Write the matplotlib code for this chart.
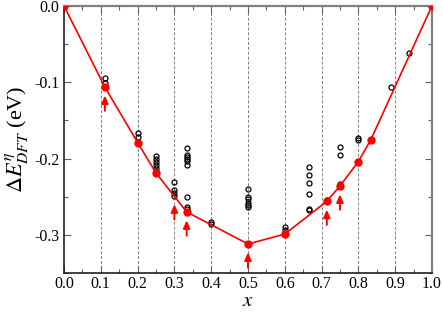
import matplotlib
matplotlib.use('Agg')
from matplotlib import pyplot as plt
from matplotlib.ticker import MultipleLocator

plt.rcParams['font.family'] = ['Liberation Serif', 'DejaVu Serif']
plt.rcParams['mathtext.fontset'] = 'stix'
plt.rcParams['axes.unicode_minus'] = False

# convex hull (red)
hull_x = [0.0, 1/9, 0.2, 0.25, 1/3, 0.5, 0.6, 5/7, 0.75, 0.8, 5/6, 1.0]
hull_y = [0.0, -0.1065, -0.179, -0.219, -0.270, -0.312, -0.299, -0.256, -0.236, -0.204, -0.176, 0.0]

# all DFT structures (open circles)
struct_x = [1/9, 1/9,
            0.2, 0.2,
            0.25, 0.25, 0.25, 0.25, 0.25, 0.25,
            0.3, 0.3, 0.3, 0.3,
            1/3, 1/3, 1/3, 1/3, 1/3, 1/3, 1/3, 1/3, 1/3,
            0.4, 0.4,
            0.5, 0.5, 0.5, 0.5, 0.5, 0.5,
            0.6, 0.6,
            2/3, 2/3, 2/3, 2/3, 2/3, 2/3,
            5/7,
            0.75, 0.75, 0.75,
            0.8, 0.8,
            8/9, 15/16]
struct_y = [-0.095, -0.101,
            -0.167, -0.172,
            -0.197, -0.201, -0.204, -0.208, -0.212, -0.216,
            -0.231, -0.241, -0.245, -0.249,
            -0.186, -0.195, -0.198, -0.201, -0.203, -0.209, -0.251, -0.264, -0.266,
            -0.283, -0.286,
            -0.240, -0.250, -0.253, -0.258, -0.261, -0.263,
            -0.290, -0.293,
            -0.211, -0.221, -0.232, -0.246, -0.266, -0.268,
            -0.254,
            -0.185, -0.195, -0.234,
            -0.173, -0.176,
            -0.106, -0.062]

# arrows marking selected structures
arrow_x = [1/9, 0.3, 1/3, 0.5, 5/7, 0.75]
arrow_y = [-0.1065, -0.249, -0.270, -0.312, -0.256, -0.236]

fig = plt.figure(figsize=(4.43, 3.12), dpi=100)
ax = fig.add_axes([0.1445, 0.125, 0.8305, 0.856])

for gx in [0.1 * i for i in range(1, 10)]:
    ax.axvline(gx, color='#808080', lw=0.7, ls=(0, (3, 2)), zorder=0)

ax.plot(struct_x, struct_y, 'o', mfc='none', mec='black', ms=3.6, mew=0.9, zorder=2)
ax.plot(hull_x, hull_y, '-o', color='red', lw=1.2, ms=5, zorder=3)

for ax_x, ax_y in zip(arrow_x, arrow_y):
    ax.annotate('', xy=(ax_x, ax_y - 0.011), xytext=(ax_x, ax_y - 0.031),
                arrowprops=dict(arrowstyle='-|>,head_width=0.2,head_length=0.45',
                                color='red', lw=1.4, shrinkA=0, shrinkB=0))

ax.set_xlim(0, 1)
ax.set_ylim(-0.35, 0)
ax.xaxis.set_minor_locator(MultipleLocator(0.05))
ax.yaxis.set_minor_locator(MultipleLocator(0.05))
ax.set_xticks([0.1 * i for i in range(11)])
ax.set_xticklabels(['%.1f' % (0.1 * i) for i in range(11)])
ax.set_yticks([0.0, -0.1, -0.2, -0.3])
ax.set_yticklabels(['0.0', '-0.1', '-0.2', '-0.3'])
ax.tick_params(which='both', direction='in', top=True, right=True, labelsize=11.5, colors='black')
ax.tick_params(which='major', length=5, width=0.8, color='#606060')
ax.tick_params(which='minor', length=3, width=0.8, color='#606060')
ax.tick_params(axis='x', pad=2)

for s in ['top', 'right']:
    ax.spines[s].set_color('#808080')
    ax.spines[s].set_linewidth(1.6)
for s in ['left', 'bottom']:
    ax.spines[s].set_color('#202020')
    ax.spines[s].set_linewidth(1.2)

ax.set_xlabel('$x$', fontsize=15, labelpad=0)
ax.set_ylabel(r'$\Delta E^{\eta}_{DFT}$ (eV)', fontsize=16, labelpad=2)

fig.savefig('out.png', dpi=100)
